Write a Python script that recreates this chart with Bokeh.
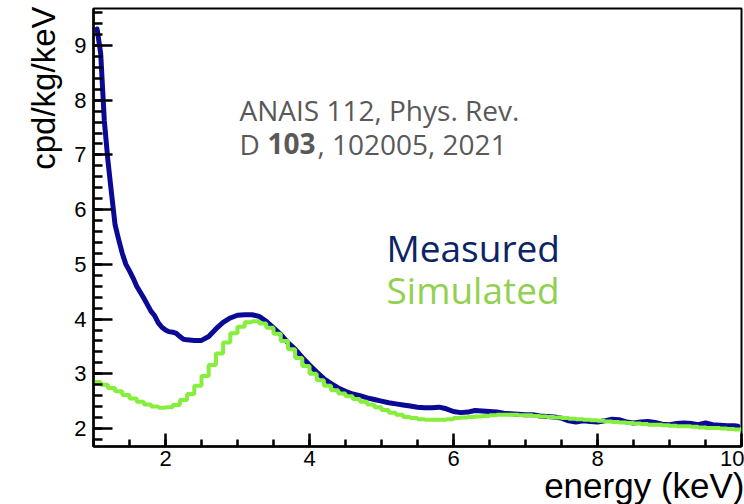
import math
from bokeh.plotting import figure
from bokeh.models import Range1d, FixedTicker, Label, Title
from bokeh.embed import file_html
from bokeh.resources import INLINE

# ---------------- data ----------------
measured_energy = [1.05, 1.10, 1.15, 1.20, 1.25, 1.30, 1.35, 1.40, 1.45, 1.50,
                   1.55, 1.60, 1.65, 1.70, 1.75, 1.80, 1.85, 1.90, 1.95, 2.00,
                   2.05, 2.10, 2.15, 2.20, 2.25, 2.30,
                   2.4, 2.5, 2.6, 2.7, 2.8, 2.9,
                   3.0, 3.1, 3.2, 3.3, 3.4, 3.5, 3.6, 3.7, 3.8, 3.9,
                   4.0, 4.1, 4.2, 4.3, 4.4, 4.5, 4.6, 4.7, 4.8, 4.9,
                   5.0, 5.1, 5.2, 5.3, 5.4, 5.5, 5.6, 5.7, 5.8, 5.9,
                   6.0, 6.1, 6.2, 6.3, 6.4, 6.5, 6.6, 6.7, 6.8, 6.9,
                   7.0, 7.1, 7.2, 7.3, 7.4, 7.5, 7.6, 7.7, 7.8, 7.9,
                   8.0, 8.1, 8.2, 8.3, 8.4, 8.5, 8.6, 8.7, 8.8, 8.9,
                   9.0, 9.1, 9.2, 9.3, 9.4, 9.5, 9.6, 9.7, 9.8, 9.9, 9.95]
measured_rate = [9.30, 8.85, 7.63, 6.90, 6.30, 5.72, 5.45, 5.20, 5.00, 4.88,
                 4.75, 4.60, 4.49, 4.38, 4.26, 4.14, 4.06, 3.93, 3.85, 3.80,
                 3.77, 3.76, 3.74, 3.68, 3.63, 3.62,
                 3.61, 3.61, 3.68, 3.82, 3.94, 4.02,
                 4.07, 4.08, 4.08, 4.05, 3.96, 3.84, 3.72, 3.57, 3.45, 3.30,
                 3.16, 3.03, 2.91, 2.82, 2.74, 2.68, 2.63, 2.60, 2.56, 2.53,
                 2.50, 2.47, 2.45, 2.43, 2.41, 2.39, 2.38, 2.38, 2.39, 2.36,
                 2.31, 2.29, 2.30, 2.33, 2.32, 2.31, 2.30, 2.28, 2.27, 2.26,
                 2.25, 2.25, 2.23, 2.22, 2.21, 2.19, 2.14, 2.12, 2.14, 2.13,
                 2.12, 2.14, 2.17, 2.16, 2.12, 2.10, 2.12, 2.13, 2.11, 2.08,
                 2.07, 2.09, 2.10, 2.09, 2.07, 2.10, 2.07, 2.06, 2.05, 2.05, 2.04]

# simulated histogram: 0.1 keV bins from 1.0 to 10.0 keV
sim_bin_edges = [round(1.0 + 0.1 * i, 2) for i in range(91)]
simulated_rate = [2.85, 2.80, 2.74, 2.68, 2.61, 2.55, 2.49, 2.44, 2.40, 2.38,
                  2.39, 2.43, 2.52, 2.63, 2.78, 2.96, 3.16, 3.37, 3.57, 3.74,
                  3.86, 3.94, 3.96, 3.92, 3.84, 3.73, 3.60, 3.45, 3.29, 3.14,
                  3.00, 2.88, 2.78, 2.70, 2.64, 2.59, 2.54, 2.49, 2.44, 2.39,
                  2.34, 2.29, 2.25, 2.21, 2.19, 2.17, 2.16, 2.16, 2.16, 2.17,
                  2.19, 2.20, 2.21, 2.22, 2.23, 2.24, 2.25, 2.25, 2.25, 2.24,
                  2.24, 2.23, 2.22, 2.21, 2.20, 2.19, 2.18, 2.17, 2.16, 2.15,
                  2.14, 2.13, 2.12, 2.11, 2.10, 2.09, 2.08, 2.07, 2.07, 2.06,
                  2.05, 2.04, 2.04, 2.03, 2.02, 2.01, 2.01, 2.00, 1.99, 1.98]

x_major_ticks = [2, 4, 6, 8, 10]
x_minor_ticks = [1.0 + 0.5 * i for i in range(19)]
y_major_ticks = [2, 3, 4, 5, 6, 7, 8, 9]
y_minor_ticks = [round(1.8 + 0.2 * i, 1) for i in range(40)]

X_LO, X_HI = 1.0, 10.0
Y_LO, Y_HI = 1.671, 9.676

# layout (pixels)
W, H = 744, 504
FL, FR, FT, FB = 93, 741, 8, 446


def dx(px):
    return X_LO + (px - FL) * (X_HI - X_LO) / (FR - FL)


def dy(py):
    return Y_LO + (FB - py) * (Y_HI - Y_LO) / (FB - FT)


p = figure(width=W, height=H, output_backend="svg", toolbar_location=None,
           x_range=Range1d(X_LO, X_HI), y_range=Range1d(Y_LO, Y_HI),
           min_border_left=FL, min_border_right=W - FR,
           min_border_top=FT, min_border_bottom=H - FB)
p.background_fill_color = "white"
p.border_fill_color = "white"
p.grid.visible = False
p.outline_line_color = "black"
p.outline_line_width = 2

p.xaxis.ticker = FixedTicker(ticks=x_major_ticks, minor_ticks=x_minor_ticks)
p.yaxis.ticker = FixedTicker(ticks=y_major_ticks, minor_ticks=y_minor_ticks)

for ax in (p.xaxis, p.yaxis):
    ax.axis_line_color = "black"
    ax.axis_line_width = 2.5
    ax.major_tick_line_color = "black"
    ax.minor_tick_line_color = "black"
    ax.major_tick_line_width = 2.5
    ax.minor_tick_line_width = 2.5
    ax.major_tick_out = 0
    ax.minor_tick_out = 0
    ax.major_label_text_font = "Liberation Sans"
    ax.major_label_text_font_size = "22px"
    ax.major_label_text_color = "black"

p.xaxis.major_tick_in = 13
p.xaxis.minor_tick_in = 7
p.xaxis.major_label_standoff = 4
p.yaxis.major_tick_in = 19
p.yaxis.minor_tick_in = 9
p.yaxis.major_label_standoff = 7

# axis titles, aligned to the far ends of the axes (ROOT style)
p.add_layout(Title(text="energy (keV)", align="right", offset=-3, standoff=-10,
                   text_font="Liberation Sans", text_font_style="normal",
                   text_font_size="35px", text_color="black"), "below")
p.add_layout(Title(text="cpd/kg/keV", align="right", offset=-2, standoff=19,
                   text_font="Liberation Sans", text_font_style="normal",
                   text_font_size="33px", text_color="black"), "left")

# measured spectrum
p.line(measured_energy, measured_rate, line_color="#0a0a96", line_width=5,
       line_join="round", line_cap="round")

# simulated histogram (steps)
p.step(sim_bin_edges, simulated_rate + [simulated_rate[-1]], mode="after",
       line_color="#86ee3c", line_width=4)


def text_label(px, baseline_py, text, size, color, bold=False):
    # anchor shifted so that the rendered baseline lands on baseline_py
    lab = Label(x=dx(px), y=dy(baseline_py - 0.46 * size), text=text,
                text_baseline="alphabetic", text_font="Open Sans",
                text_font_size=f"{size}px", text_color=color,
                text_font_style="bold" if bold else "normal")
    p.add_layout(lab)


grey = "#595959"
text_label(239, 122, "ANAIS 112, Phys. Rev.", 28, grey)
text_label(239, 156, "D", 28, grey)
text_label(267, 156, "103", 28, grey, bold=True)
text_label(317, 156, ", 102005, 2021", 28, grey)

text_label(386, 264, "Measured", 37, "#0b2466")
text_label(386, 306, "Simulated", 37, "#92d050")

open("out.html", "w").write(file_html(p, INLINE))
